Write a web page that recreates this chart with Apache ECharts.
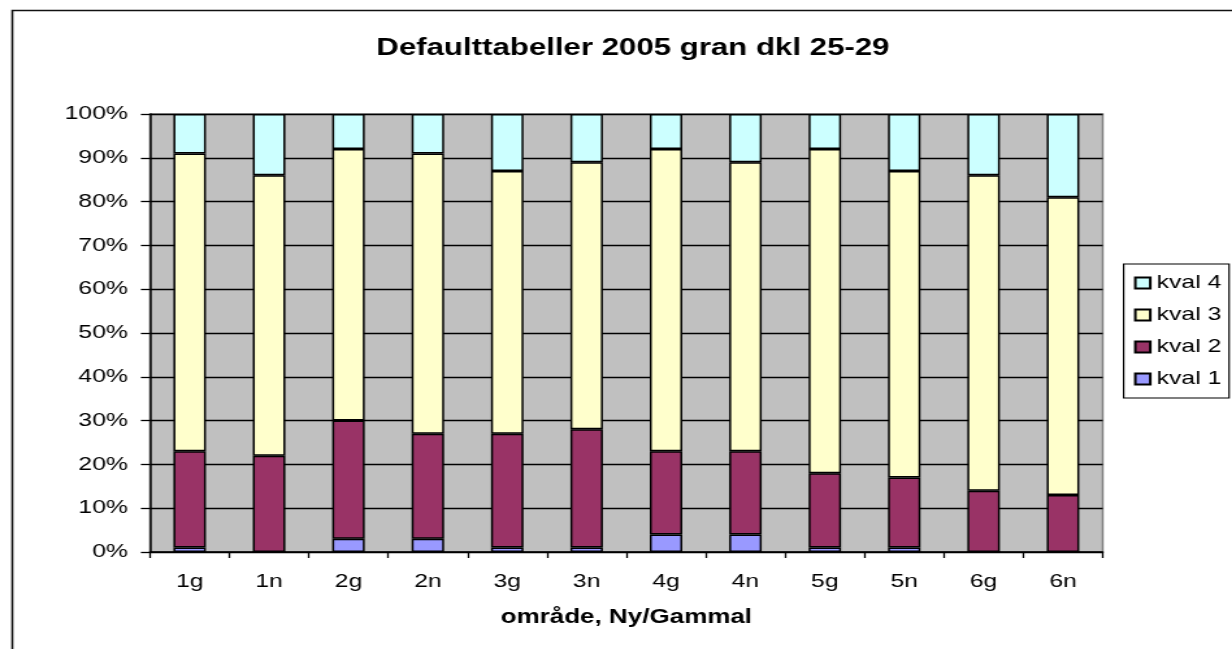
<!DOCTYPE html>
<html>
<head>
<meta charset="utf-8">
<script src="https://cdn.jsdelivr.net/npm/echarts@6/dist/echarts.min.js"></script>
<style>
html,body{margin:0;padding:0;background:#fff;overflow:hidden;}
#c{width:948px;height:649px;transform:scaleX(1.29958);transform-origin:0 0;}
</style>
</head>
<body>
<div id="c"></div>
<script>
const categories = ['1g','1n','2g','2n','3g','3n','4g','4n','5g','5n','6g','6n'];
const kval1 = [1, 0, 3, 3, 1, 1, 4, 4, 1, 1, 0, 0];
const kval2 = [22, 22, 27, 24, 26, 27, 19, 19, 17, 16, 14, 13];
const kval3 = [68, 64, 62, 64, 60, 61, 69, 66, 74, 70, 72, 68];
const kval4 = [9, 14, 8, 9, 13, 11, 8, 11, 8, 13, 14, 19];
const seriesNames = ['kval 1','kval 2','kval 3','kval 4'];
const seriesColors = ['#9999ff','#993366','#ffffcc','#ccffff'];
const titleText = 'Defaulttabeller 2005 gran dkl 25-29';
const xAxisTitle = 'område, Ny/Gammal';

const FONT = 'Liberation Sans, Arial, sans-serif';
const chart = echarts.init(document.getElementById('c'), null, {renderer:'canvas'});
const values = [kval1, kval2, kval3, kval4];

chart.setOption({
  animation: false,
  backgroundColor: '#ffffff',
  title: {
    text: titleText,
    left: 482, top: 31, textAlign: 'center',
    textStyle: {fontFamily: FONT, fontSize: 24, fontWeight: 'bold', color: '#000'}
  },
  graphic: [{
    type: 'rect', left: 7, top: 8, z: -10,
    shape: {x: 0, y: 0, width: 1100, height: 800},
    style: {fill: 'none', stroke: '#111', lineWidth: 1.6}
  }],
  legend: {
    data: ['kval 4','kval 3','kval 2','kval 1'],
    orient: 'vertical',
    left: 864.6, top: 264,
    itemWidth: 11.5, itemHeight: 11, itemGap: 12,
    padding: [9, 6, 9, 8],
    borderColor: '#000', borderWidth: 1.2,
    icon: 'rect',
    textStyle: {fontFamily: FONT, fontSize: 19, color: '#000', lineHeight: 20}
  },
  grid: {
    left: 115.4, right: 99.5, top: 114, bottom: 97,
    show: true, backgroundColor: '#c0c0c0', borderColor: '#808080', borderWidth: 1.5
  },
  xAxis: {
    type: 'category', data: categories, boundaryGap: true,
    name: xAxisTitle, nameLocation: 'middle', nameGap: 55,
    nameTextStyle: {fontFamily: FONT, fontSize: 20, fontWeight: 'bold', color: '#000'},
    axisLine: {lineStyle: {color: '#000', width: 1.5}},
    axisTick: {show: true, alignWithLabel: false, length: 6, lineStyle: {color: '#000', width: 1.3}},
    axisLabel: {fontFamily: FONT, fontSize: 19, color: '#000', margin: 20}
  },
  yAxis: {
    type: 'value', min: 0, max: 100, interval: 10,
    axisLine: {show: true, lineStyle: {color: '#000', width: 1.5}},
    axisTick: {show: true, length: 7, lineStyle: {color: '#000', width: 1.3}},
    axisLabel: {fontFamily: FONT, fontSize: 19, color: '#000', margin: 17, formatter: '{value}%'},
    splitLine: {show: true, lineStyle: {color: '#000', width: 1.3}}
  },
  series: seriesNames.map((n, i) => ({
    name: n, type: 'bar', stack: 'total', data: values[i], barWidth: 25,
    itemStyle: {color: seriesColors[i], borderColor: '#000', borderWidth: 1.5}
  }))
});
</script>
</body>
</html>
